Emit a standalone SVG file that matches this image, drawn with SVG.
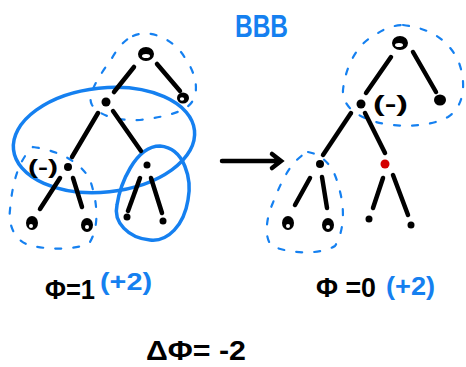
<svg xmlns="http://www.w3.org/2000/svg" width="466" height="367" viewBox="0 0 466 367">
<style>
.e{stroke:#000;stroke-width:4.5;stroke-linecap:round;fill:none}
.dash{stroke:#1580f0;stroke-width:2.2;fill:none;stroke-dasharray:6 12;stroke-linecap:round}
.blue{stroke:#1580f0;stroke-width:3.5;fill:none}
.dot{fill:#000}
.hole{fill:#fff}
.t{font-family:"Liberation Sans",Arial,sans-serif;font-weight:bold;fill:#000}
.tb{font-family:"Liberation Sans",Arial,sans-serif;font-weight:bold;fill:#1580f0}
</style>
<rect width="466" height="367" fill="#fff"/>
<text class="tb" x="235" y="37" font-size="32" textLength="53" lengthAdjust="spacingAndGlyphs">BBB</text>
<g id="outlines">
<path class="dash" d="M133,36 C150,28 175,40 185,58 C195,72 200,90 192,102 C185,112 165,117 140,120 C120,121 100,117 92,105 C86,95 100,75 112,58 C118,48 124,40 133,36 Z"/>
<path class="dash" d="M33,147 C55,150 80,160 90,180 C97,200 100,225 90,242 C80,250 50,250 33,246 C15,243 8,225 10,210 C12,185 18,160 33,147 Z"/>
<path class="dash" d="M403,25 C425,28 445,35 458,60 C466,80 466,105 448,117 C430,127 400,128 376,122 C355,116 342,105 343,90 C345,70 355,45 375,35 C385,28 395,25 403,25 Z"/>
<path class="dash" d="M308,152 C325,155 335,170 338,185 C345,205 345,230 335,246 C320,255 290,254 272,246 C264,238 266,220 272,205 C280,185 290,160 308,152 Z"/>
<ellipse class="blue" cx="104" cy="140" rx="91" ry="52" transform="rotate(-6 104 140)"/>
<path class="blue" d="M160,146 C185,148 192,180 188,200 C184,225 168,242 150,240 C128,238 113,222 117,205 C120,185 135,146 160,146 Z"/>
</g>
<g id="connectors">
<path class="e" d="M134,67 L114,92"/>
<path class="e" d="M157,64 L180,91"/>
<path class="e" d="M98,113 L72,157"/>
<path class="e" d="M113,111 L141,151"/>
<path class="e" d="M60,178 L40,209"/>
<path class="e" d="M73,178 L82,207"/>
<path class="e" d="M140,178 L128,211"/>
<path class="e" d="M151,178 L162,213"/>
<path class="e" d="M391,57 L366,93"/>
<path class="e" d="M413,52 L436,92"/>
<path class="e" d="M351,113 L323,155"/>
<path class="e" d="M365,113 L385,153"/>
<path class="e" d="M310,178 L295,205"/>
<path class="e" d="M322,177 L327,208"/>
<path class="e" d="M383,178 L373,208"/>
<path class="e" d="M393,175 L408,215"/>
<path class="e" d="M222,161 L280,161 M272,154 L281,161 L272,168"/>
</g>
<g id="L_root"><ellipse class="dot" cx="146" cy="54" rx="8" ry="7"/><ellipse class="hole" cx="146" cy="56" rx="4" ry="2"/></g>
<g id="L_r"><ellipse class="dot" cx="183" cy="98" rx="6" ry="5.5"/><ellipse class="hole" cx="182" cy="99" rx="2.2" ry="1.8"/></g>
<g id="L_l"><circle class="dot" cx="106" cy="102" r="4.5"/></g>
<g id="L_ll"><circle class="dot" cx="68" cy="167" r="4"/><text class="t" x="28" y="174" font-size="21" textLength="30" lengthAdjust="spacingAndGlyphs">(-)</text></g>
<g id="L_lr"><circle class="dot" cx="147" cy="165" r="3.5"/></g>
<g id="L_lll"><ellipse class="dot" cx="32" cy="223" rx="6" ry="7"/><circle class="hole" cx="31" cy="226" r="2"/></g>
<g id="L_llr"><ellipse class="dot" cx="87" cy="225" rx="6" ry="7"/><circle class="hole" cx="87" cy="227" r="2"/></g>
<g id="L_lrl"><circle class="dot" cx="127" cy="217" r="3.5"/></g>
<g id="L_lrr"><circle class="dot" cx="163" cy="221" r="3.5"/></g>
<g id="R_root"><ellipse class="dot" cx="400" cy="43" rx="8" ry="7"/><ellipse class="hole" cx="399" cy="45" rx="4" ry="2"/></g>
<g id="R_r"><ellipse class="dot" cx="440" cy="100" rx="6" ry="5.5"/></g>
<g id="R_l"><circle class="dot" cx="361" cy="104" r="4.5"/><text class="t" x="373" y="111" font-size="22" textLength="35" lengthAdjust="spacingAndGlyphs">(-)</text></g>
<g id="R_ll"><circle class="dot" cx="320" cy="164" r="4"/></g>
<g id="R_lr"><circle cx="385" cy="164" r="4.5" fill="#d40000"/></g>
<g id="R_lll"><ellipse class="dot" cx="288" cy="223" rx="6" ry="7"/><circle class="hole" cx="288" cy="226" r="2"/></g>
<g id="R_llr"><ellipse class="dot" cx="328" cy="225" rx="6" ry="7"/><circle class="hole" cx="328" cy="227" r="2"/></g>
<g id="R_lrl"><circle class="dot" cx="369" cy="219" r="3.5"/></g>
<g id="R_lrr"><circle class="dot" cx="411" cy="225" r="3.5"/></g>
<g id="labels">
<text class="t" x="45" y="299" font-size="27" textLength="50" lengthAdjust="spacingAndGlyphs">Φ=1</text>
<text class="tb" x="100" y="290" font-size="23" textLength="52" lengthAdjust="spacingAndGlyphs">(+2)</text>
<text class="t" x="316" y="297" font-size="27" textLength="60" lengthAdjust="spacingAndGlyphs">Φ =0</text>
<text class="tb" x="386" y="295" font-size="25" textLength="49" lengthAdjust="spacingAndGlyphs">(+2)</text>
<text class="t" x="146" y="360" font-size="27" textLength="100" lengthAdjust="spacingAndGlyphs">ΔΦ= -2</text>
</g>
</svg>
